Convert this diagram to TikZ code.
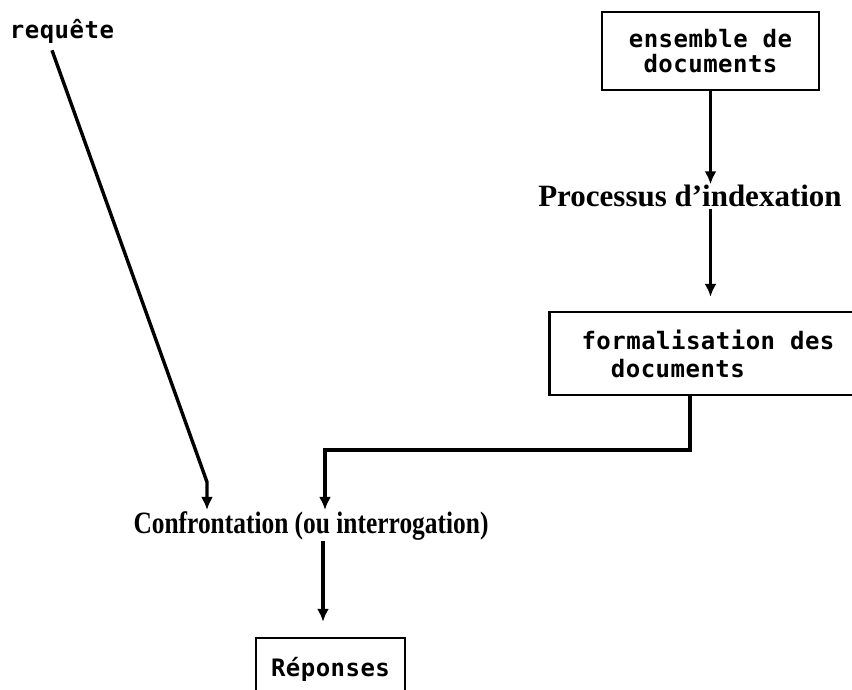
\documentclass[tikz,border=0pt]{standalone}
\usepackage{fontspec}
\setmainfont{Liberation Serif}
\newfontfamily\printfont[LetterSpace=2]{DejaVu Sans Mono}
\newfontfamily\narrowfont[FakeStretch=0.82]{Liberation Serif}
\usetikzlibrary{positioning, arrows.meta}

\begin{document}
\begin{tikzpicture}[x=1pt,y=-1pt,box/.style={draw,line width=2.4pt,align=center,inner sep=0pt,font=\printfont\bfseries\fontsize{24}{25}\selectfont},label/.style={inner sep=0pt,font=\printfont\bfseries\fontsize{24}{25}\selectfont},step title/.style={anchor=base,inner sep=1pt,font=\bfseries\fontsize{31}{34}\selectfont},arrow/.style={-{Latex[length=13pt,width=12pt]},line width=3.4pt}]
\useasboundingbox (0,0) rectangle (852,690);
\clip (0,0) rectangle (852,690);
\node[label] (req) at (62,31) {requête};
\node[box,minimum width=217pt,minimum height=78pt] (ens) at (710.5,51){ensemble de\\documents};
\node[step title] (proc) at (690,207) {Processus d'indexation};
\node[box,minimum width=317pt,minimum height=83pt,align=left,font=\printfont\bfseries\fontsize{24}{28}\selectfont] (form) at (708,353.5){formalisation des\\\phantom{fo}documents};
\node[step title,font=\narrowfont\bfseries\fontsize{31}{34}\selectfont] (conf) at (311,533) {Confrontation (ou interrogation)};
\node[box,minimum width=149pt,minimum height=62pt] (rep) at (330.5,669){Réponses};
\coordinate (reqfoot) at (207,482);
\coordinate (bend) at (325,450);
\draw[arrow] ([xshift=-10pt,yshift=-7pt]req.south) -- (reqfoot) -- (reqfoot |- conf.north);
\draw[arrow] (ens.south) -- (ens.south |- proc.north);
\draw[arrow,shorten >=14pt] (ens.south |- proc.south) -- (ens.south |- form.north);
\draw[arrow] ([xshift=-18pt]form.south) |- (bend) -- (bend |- conf.north);
\draw[arrow,shorten >=15pt] ([xshift=12pt]conf.south) -- ([xshift=12pt]conf.south |- rep.north);
\end{tikzpicture}
\end{document}
